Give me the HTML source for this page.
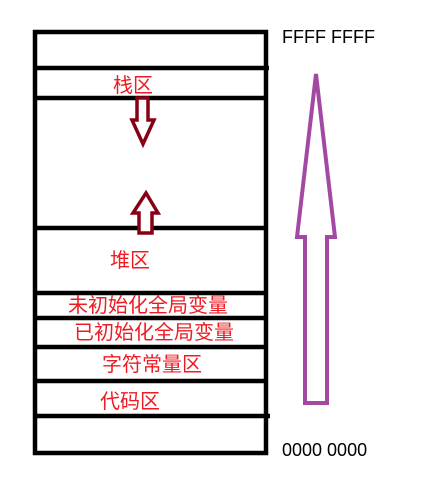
<!DOCTYPE html>
<html><head><meta charset="utf-8"><style>
html,body{margin:0;padding:0;background:#fff;width:431px;height:479px;overflow:hidden}
svg{display:block}
text{font-family:"Liberation Sans","Noto Sans CJK SC",sans-serif}
.r{fill:#ED1C24;font-size:20px}
.b{fill:#000;font-size:18px}
</style></head><body>
<svg width="431" height="479">
<rect x="35" y="32" width="231" height="421" fill="none" stroke="#000" stroke-width="4.5"/>
<g stroke="#000" stroke-width="4.5">
<line x1="35" y1="68" x2="269" y2="68"/>
<line x1="35" y1="98" x2="266" y2="98"/>
<line x1="35" y1="228" x2="266" y2="228"/>
<line x1="35" y1="293" x2="268" y2="293"/>
<line x1="35" y1="318" x2="268" y2="318"/>
<line x1="35" y1="347" x2="266" y2="347"/>
<line x1="35" y1="381" x2="266" y2="381"/>
<line x1="35" y1="416" x2="270" y2="416"/>
</g>
<text class="r" x="113" y="92">栈区</text>
<text class="r" x="110" y="267">堆区</text>
<text class="r" x="68" y="312">未初始化全局变量</text>
<text class="r" x="74" y="339">已初始化全局变量</text>
<text class="r" x="102" y="371">字符常量区</text>
<text class="r" x="100" y="408">代码区</text>
<polygon points="137,98 148,98 148,120 154,120 143,144 132,120 137,120" fill="#fff" stroke="#880015" stroke-width="3.5"/>
<polygon points="146,193 158,213 152,213 152,233 139,233 139,213 133,213" fill="#fff" stroke="#880015" stroke-width="3.5"/>
<polygon points="316,74 335,237 327,237 327,403 305,403 305,237 297,237" fill="#fff" stroke="#A349A4" stroke-width="4"/>
<text class="b" x="282" y="43">FFFF FFFF</text>
<text class="b" x="282" y="456">0000 0000</text>
</svg>
</body></html>
